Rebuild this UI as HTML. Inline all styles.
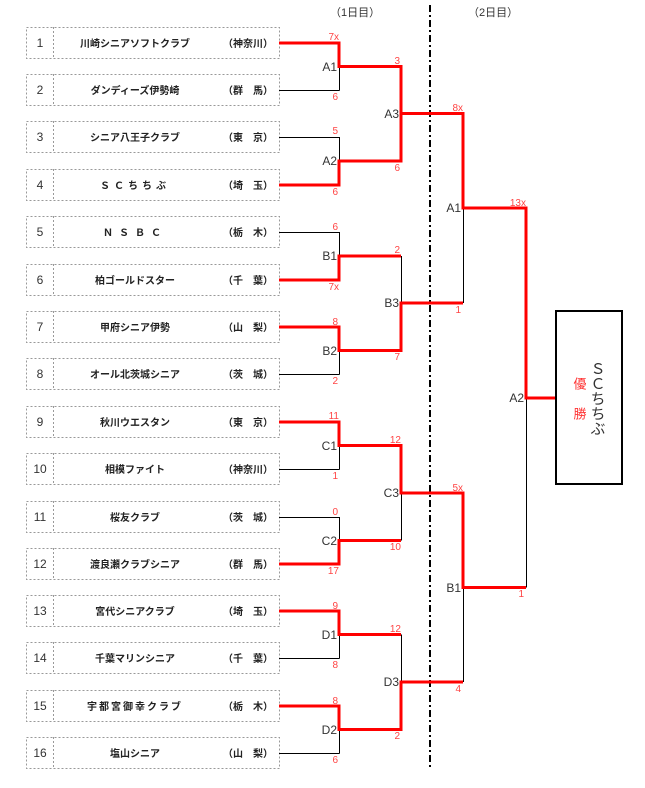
<!DOCTYPE html>
<html><head><meta charset="utf-8"><style>
body{margin:0;background:#fff;width:645px;height:788px;overflow:hidden;font-family:"Liberation Sans","Noto Sans CJK JP",sans-serif}
</style></head><body>
<svg width="645" height="788" xmlns="http://www.w3.org/2000/svg" style="position:absolute;left:0;top:0;font-family:'Liberation Sans','Noto Sans CJK JP',sans-serif">
<g fill="none" stroke="#999" stroke-width="1" stroke-dasharray="2,2">
<rect x="26.5" y="27.5" width="253" height="31"/><line x1="53.5" y1="27" x2="53.5" y2="59"/>
<rect x="26.5" y="74.5" width="253" height="31"/><line x1="53.5" y1="74" x2="53.5" y2="106"/>
<rect x="26.5" y="121.5" width="253" height="31"/><line x1="53.5" y1="121" x2="53.5" y2="153"/>
<rect x="26.5" y="169.5" width="253" height="31"/><line x1="53.5" y1="169" x2="53.5" y2="201"/>
<rect x="26.5" y="216.5" width="253" height="31"/><line x1="53.5" y1="216" x2="53.5" y2="248"/>
<rect x="26.5" y="264.5" width="253" height="31"/><line x1="53.5" y1="264" x2="53.5" y2="296"/>
<rect x="26.5" y="311.5" width="253" height="31"/><line x1="53.5" y1="311" x2="53.5" y2="343"/>
<rect x="26.5" y="358.5" width="253" height="31"/><line x1="53.5" y1="358" x2="53.5" y2="390"/>
<rect x="26.5" y="406.5" width="253" height="31"/><line x1="53.5" y1="406" x2="53.5" y2="438"/>
<rect x="26.5" y="453.5" width="253" height="31"/><line x1="53.5" y1="453" x2="53.5" y2="485"/>
<rect x="26.5" y="501.5" width="253" height="31"/><line x1="53.5" y1="501" x2="53.5" y2="533"/>
<rect x="26.5" y="548.5" width="253" height="31"/><line x1="53.5" y1="548" x2="53.5" y2="580"/>
<rect x="26.5" y="595.5" width="253" height="31"/><line x1="53.5" y1="595" x2="53.5" y2="627"/>
<rect x="26.5" y="642.5" width="253" height="31"/><line x1="53.5" y1="642" x2="53.5" y2="674"/>
<rect x="26.5" y="690.5" width="253" height="31"/><line x1="53.5" y1="690" x2="53.5" y2="722"/>
<rect x="26.5" y="737.5" width="253" height="31"/><line x1="53.5" y1="737" x2="53.5" y2="769"/>
</g>
<g font-size="12" fill="#333" text-anchor="middle">
<text x="40" y="47">1</text><text x="40" y="94">2</text><text x="40" y="141">3</text><text x="40" y="189">4</text>
<text x="40" y="236">5</text><text x="40" y="284">6</text><text x="40" y="331">7</text><text x="40" y="378">8</text>
<text x="40" y="426">9</text><text x="40" y="473">10</text><text x="40" y="521">11</text><text x="40" y="568">12</text>
<text x="40" y="615">13</text><text x="40" y="662">14</text><text x="40" y="710">15</text><text x="40" y="757">16</text>
</g>
<g font-size="10" font-weight="bold" fill="#222" text-anchor="middle">
<text x="135" y="47">川崎シニアソフトクラブ</text><text x="135" y="94">ダンディーズ伊勢崎</text>
<text x="135" y="141">シニア八王子クラブ</text><text x="135" y="189" letter-spacing="4">ＳＣちちぶ</text>
<text x="135" y="236" letter-spacing="6">ＮＳＢＣ</text><text x="135" y="284">柏ゴールドスター</text>
<text x="135" y="331">甲府シニア伊勢</text><text x="135" y="378">オール北茨城シニア</text>
<text x="135" y="426">秋川ウエスタン</text><text x="135" y="473">相模ファイト</text>
<text x="135" y="521">桜友クラブ</text><text x="135" y="568">渡良瀬クラブシニア</text>
<text x="135" y="615">宮代シニアクラブ</text><text x="135" y="662">千葉マリンシニア</text>
<text x="135" y="710" letter-spacing="2">宇都宮御幸クラブ</text><text x="135" y="757">塩山シニア</text>
</g>
<g font-size="10" font-weight="bold" fill="#222" text-anchor="middle">
<text x="248" y="47">（神奈川）</text><text x="248" y="94">（群　馬）</text>
<text x="248" y="141">（東　京）</text><text x="248" y="189">（埼　玉）</text>
<text x="248" y="236">（栃　木）</text><text x="248" y="284">（千　葉）</text>
<text x="248" y="331">（山　梨）</text><text x="248" y="378">（茨　城）</text>
<text x="248" y="426">（東　京）</text><text x="248" y="473">（神奈川）</text>
<text x="248" y="521">（茨　城）</text><text x="248" y="568">（群　馬）</text>
<text x="248" y="615">（埼　玉）</text><text x="248" y="662">（千　葉）</text>
<text x="248" y="710">（栃　木）</text><text x="248" y="757">（山　梨）</text>
</g>
<g font-size="11" fill="#333"><text x="330" y="16">（1日目）</text><text x="468" y="16">（2日目）</text></g>
<line x1="430" y1="5" x2="430" y2="768" stroke="#000" stroke-width="2" stroke-dasharray="7,3,2,3"/>
<g stroke="#000" stroke-width="1" fill="none">
<path d="M279 90.5H339.5M339.5 43V90.5M279 137.5H339.5M339.5 137V185M279 232.5H339.5M339.5 232V280M279 374.5H339.5M339.5 327V374.5M279 469.5H339.5M339.5 422V469.5M279 517.5H339.5M339.5 517V564M279 658.5H339.5M339.5 611V658.5M279 753.5H339.5M339.5 706V753.5"/>
<path d="M401.5 66.5V161M401.5 256V350.5M401.5 445.5V540.5M401.5 634.5V729.5M463.5 113.5V303M463.5 493V682M526.5 208V587.5"/>
</g>
<g stroke="#f00" stroke-width="3" fill="none">
<path d="M279 43H339V66.5H401V113.5H463V208H526V398H555"/>
<path d="M279 185H339V161H401V113.5"/>
<path d="M279 280H339V256H401"/>
<path d="M279 327H339V350.5H401V303H463"/>
<path d="M279 422H339V445.5H401V493H463V587.5H526"/>
<path d="M279 564H339V540.5H401"/>
<path d="M279 611H339V634.5H401"/>
<path d="M279 706H339V729.5H401V682H463"/>
</g>
<g font-size="12" fill="#333" text-anchor="end">
<text x="337" y="71">A1</text><text x="337" y="165">A2</text><text x="337" y="260">B1</text><text x="337" y="355">B2</text>
<text x="337" y="450">C1</text><text x="337" y="545">C2</text><text x="337" y="639">D1</text><text x="337" y="734">D2</text>
<text x="399" y="118">A3</text><text x="399" y="307">B3</text><text x="399" y="497">C3</text><text x="399" y="686">D3</text>
<text x="461" y="212">A1</text><text x="461" y="592">B1</text><text x="524" y="402">A2</text>
</g>
<g font-size="10" fill="#f44" text-anchor="end">
<text x="339" y="40">7x</text><text x="338" y="100">6</text>
<text x="338" y="134">5</text><text x="338" y="195">6</text>
<text x="338" y="230">6</text><text x="339" y="290">7x</text>
<text x="338" y="325">8</text><text x="338" y="384">2</text>
<text x="339" y="419">11</text><text x="338" y="479">1</text>
<text x="338" y="515">0</text><text x="339" y="574">17</text>
<text x="338" y="609">9</text><text x="338" y="668">8</text>
<text x="338" y="704">8</text><text x="338" y="763">6</text>
<text x="400" y="64">3</text><text x="400" y="171">6</text>
<text x="400" y="253">2</text><text x="400" y="360">7</text>
<text x="401" y="443">12</text><text x="401" y="550">10</text>
<text x="401" y="632">12</text><text x="400" y="739">2</text>
<text x="463" y="111">8x</text><text x="461" y="313">1</text>
<text x="463" y="491">5x</text><text x="461" y="692">4</text>
<text x="526" y="206">13x</text><text x="524" y="597">1</text>
</g>
<rect x="556" y="311" width="66" height="173" fill="none" stroke="#000" stroke-width="2"/>
<text x="597" y="361" font-size="15" fill="#333" style="writing-mode:vertical-rl">ＳＣちちぶ</text>
<text x="579" y="377" font-size="13" fill="#f33" letter-spacing="17" style="writing-mode:vertical-rl">優勝</text>
</svg>
</body></html>
